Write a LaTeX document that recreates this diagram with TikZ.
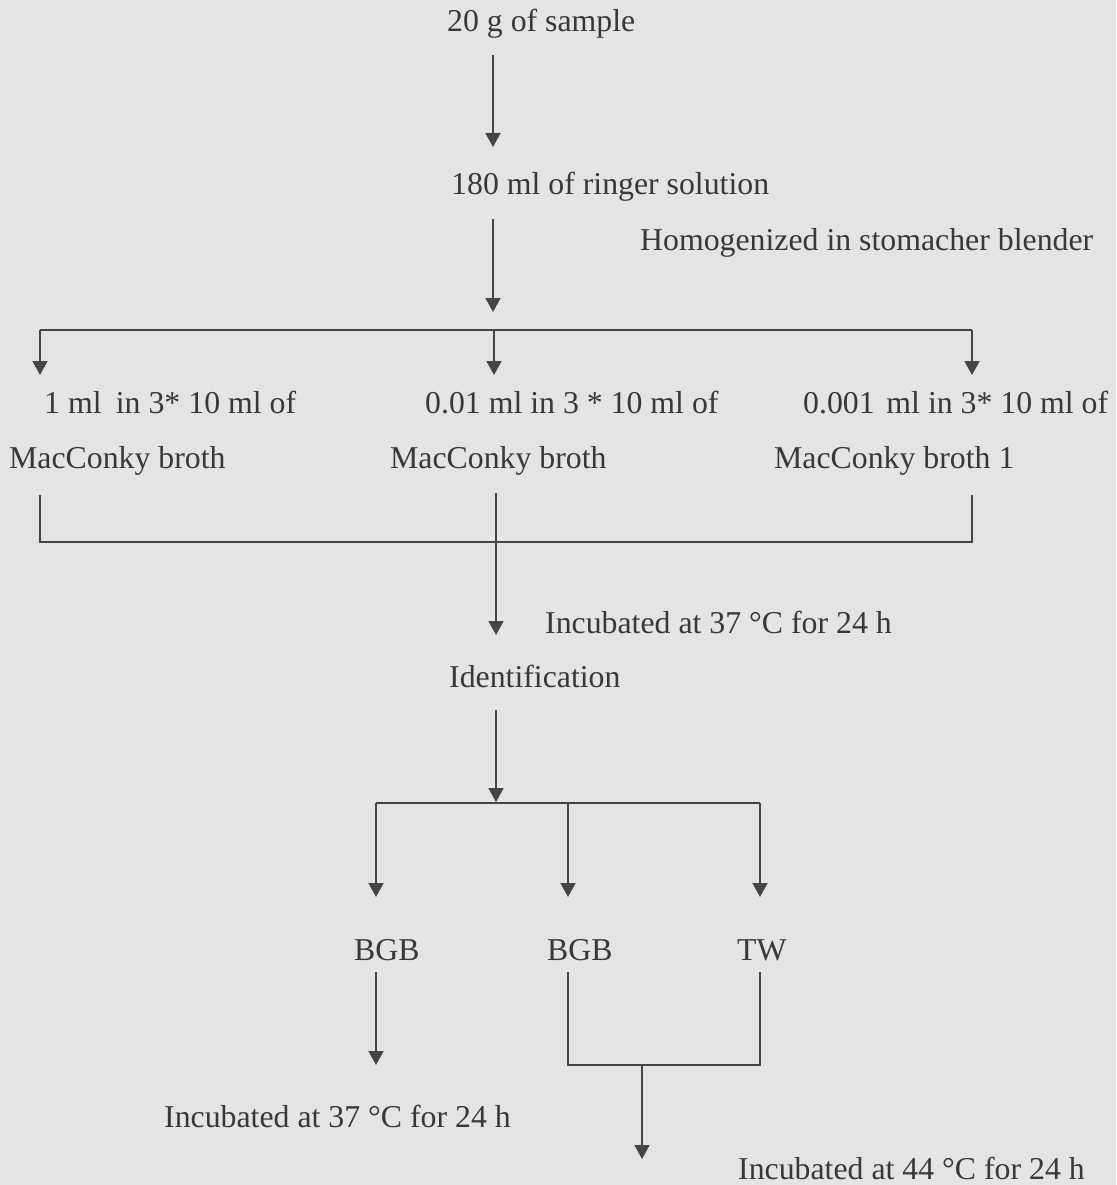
\documentclass[tikz,border=0pt]{standalone}
\usepackage{fontspec}
\setmainfont{Liberation Serif}
\usetikzlibrary{arrows.meta}
\definecolor{bgcol}{HTML}{E4E4E4}
\definecolor{textgray}{HTML}{383838}
\definecolor{linegray}{HTML}{454545}
\tikzset{
  txt/.style={anchor=base west, inner sep=0pt, text=textgray, font=\fontsize{31.8}{36}\selectfont},
  ln/.style={draw=linegray, line width=1.8pt},
  arr/.style={ln, -{Triangle[width=15pt,length=14pt]}}
}
\begin{document}
\begin{tikzpicture}[x=1pt,y=-1pt]
\fill[bgcol] (0,0) rectangle (1116,1185);
\useasboundingbox (0,0) rectangle (1116,1185);
% texts
\node[txt] (sample) at (447,32) {20 g of sample};
\node[txt] (ringer) at (451,195) {180 ml of ringer solution};
\node[txt] (homog) at (640,250) {Homogenized in stomacher blender};
\node[txt] (d1a) at (44,413) {1 ml\hspace{0.2em} in 3* 10 ml of};
\node[txt] (d2a) at (425,413) {0.01 ml in 3 * 10 ml of};
\node[txt] (d3a) at (803,413) {0.001\hspace{0.12em} ml in 3* 10 ml of};
\node[txt] (d1b) at (9,468) {MacConky broth};
\node[txt] (d2b) at (390,468) {MacConky broth};
\node[txt] (d3b) at (774,468) {MacConky broth 1};
\node[txt] (inca) at (545,633) {Incubated at 37 °C for 24 h};
\node[txt] (ident) at (449,687) {Identification};
\node[txt] (bgba) at (354,960) {BGB};
\node[txt] (bgbb) at (547,960) {BGB};
\node[txt] (tw) at (737,960) {TW};
\node[txt] (incb) at (164,1127) {Incubated at 37 °C for 24 h};
\node[txt] (incc) at (738,1179) {Incubated at 44 °C for 24 h};
% junction coordinates
\coordinate (s1) at (493,55);   \coordinate (e1) at (493,147);
\coordinate (s2) at (493,219);  \coordinate (e2) at (493,312);
\coordinate (hl) at (40,330);   \coordinate (hm) at (494,330); \coordinate (hr) at (972,330);
\coordinate (tl) at (40,375);   \coordinate (tm) at (494,375); \coordinate (tr) at (972,375);
\coordinate (bl) at (40,495);   \coordinate (br) at (972,495);
\coordinate (bbl) at (40,542);  \coordinate (bbr) at (972,542);
\coordinate (bm) at (496,493);  \coordinate (bmt) at (496,635);
\coordinate (s3) at (496,710);  \coordinate (e3) at (496,802);
\coordinate (jl) at (376,803);  \coordinate (jm) at (568,803); \coordinate (jr) at (760,803);
\coordinate (kl) at (376,897);  \coordinate (km) at (568,897); \coordinate (kr) at (760,897);
\coordinate (ml) at (376,972);  \coordinate (mm) at (568,972); \coordinate (mr) at (760,972);
\coordinate (nl) at (376,1065); \coordinate (nm) at (568,1065); \coordinate (nr) at (760,1065);
\coordinate (nc) at (642,1065); \coordinate (ncb) at (642,1159);
% connectors
\draw[arr] (s1) -- (e1);
\draw[arr] (s2) -- (e2);
\draw[ln] (hl) -- (hr);
\draw[arr] (hl) -- (tl);
\draw[arr] (hm) -- (tm);
\draw[arr] (hr) -- (tr);
\draw[ln] (bl) -- (bbl) -- (bbr) -- (br);
\draw[arr] (bm) -- (bmt);
\draw[arr] (s3) -- (e3);
\draw[ln] (jl) -- (jr);
\draw[arr] (jl) -- (kl);
\draw[arr] (jm) -- (km);
\draw[arr] (jr) -- (kr);
\draw[arr] (ml) -- (nl);
\draw[ln] (mm) -- (nm) -- (nr) -- (mr);
\draw[arr] (nc) -- (ncb);
\end{tikzpicture}
\end{document}
